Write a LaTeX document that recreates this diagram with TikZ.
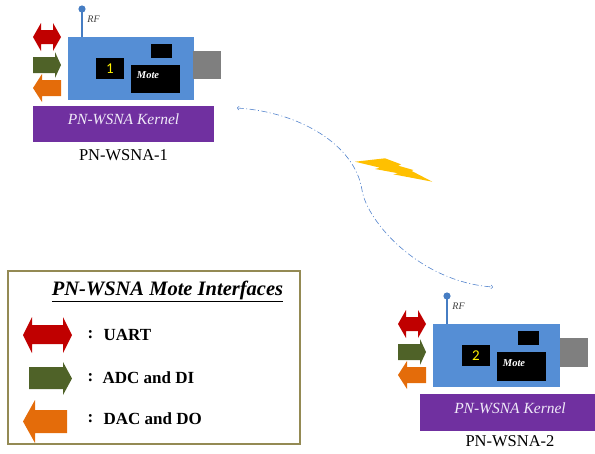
\documentclass[tikz,border=0pt]{standalone}
\usepackage{fontspec}
\setmainfont{Liberation Serif}
\newfontfamily\digitfont{Carlito}
\usepackage{tikz}
\usetikzlibrary{positioning,calc}
\usepackage{xcolor}
\definecolor{moteblue}{RGB}{85,142,213}
\definecolor{antennablue}{RGB}{70,125,195}
\definecolor{usbgray}{RGB}{127,127,127}
\definecolor{kernelpurple}{RGB}{112,48,160}
\definecolor{kerneltext}{RGB}{240,234,248}
\definecolor{uartred}{RGB}{192,0,0}
\definecolor{adcgreen}{RGB}{79,98,40}
\definecolor{dacorange}{RGB}{228,108,10}
\definecolor{legendframe}{RGB}{148,138,84}
\definecolor{boltyellow}{RGB}{255,192,0}
\definecolor{linkblue}{RGB}{84,132,205}

\begin{document}
\begin{tikzpicture}[x=1pt, y=-1pt,
    board/.style={fill=moteblue},
    chip/.style={fill=black},
    usb/.style={fill=usbgray},
    kernel/.style={fill=kernelpurple},
    kerneltxt/.style={text=kerneltext, font=\fontsize{15.5}{18}\selectfont\itshape},
    motelabel/.style={font=\fontsize{16.5}{19}\selectfont},
    antenna/.style={draw=antennablue, line width=2.5pt},
    uart/.style={fill=uartred},
    adc/.style={fill=adcgreen},
    dac/.style={fill=dacorange},
    legendtxt/.style={font=\fontsize{17}{20}\selectfont\bfseries, anchor=west}]
  \useasboundingbox (0,0) rectangle (595,453);

  % Mote 1
  \begin{scope}
    \draw[antenna] (82,37) -- (82,11);
    \fill[antennablue] (82,9) circle (3.6);
    \node[font=\fontsize{10}{12}\selectfont\itshape, text=black!75] (rf1) at (93.5,19.5) {RF};
    \fill[board] (68,37) rectangle (194,100);
    \fill[usb] (193,51) rectangle (221,79);
    \fill[chip] (151,44) rectangle (172,58);
    \fill[chip] (96,58) rectangle (124,79);
    \node[font=\digitfont\fontsize{15}{18}\selectfont, text=yellow] (num1) at (110,68.5) {1};
    \fill[chip] (131,65) rectangle (180,93);
    \node[font=\fontsize{10.5}{12}\selectfont\bfseries\itshape, text=white] (chip1) at (148,75.5) {Mote};
    % interface arrows
    \fill[uart] (33,37) -- (41,23) -- (41,30) -- (53,30) -- (53,23) -- (61,37)
      -- (53,51) -- (53,44) -- (41,44) -- (41,51) -- cycle;
    \fill[adc] (33,57) -- (55,57) -- (55,52) -- (61,65) -- (55,78) -- (55,73) -- (33,73) -- cycle;
    \fill[dac] (33,88) -- (42,74) -- (42,80) -- (61,80) -- (61,96) -- (42,96) -- (42,102) -- cycle;
  \end{scope}
  \fill[kernel] (33,106) rectangle (214,142);
  \node[kerneltxt] (kernel1) at (123.5,119) {PN-WSNA Kernel};
  \node[motelabel] (name1) at (123.5,155.5) {PN-WSNA-1};

  % Mote 2
  \begin{scope}[shift={(365,287)}]
    \draw[antenna] (82,37) -- (82,11);
    \fill[antennablue] (82,9) circle (3.6);
    \node[font=\fontsize{10}{12}\selectfont\itshape, text=black!75] (rf2) at (93.5,19.5) {RF};
    \fill[board] (68,37) rectangle (195,100);
    \fill[usb] (195,51) rectangle (223,80);
    \fill[chip] (153,44) rectangle (174,58);
    \fill[chip] (97,58) rectangle (125,79);
    \node[font=\digitfont\fontsize{15}{18}\selectfont, text=yellow] (num2) at (111,68.5) {2};
    \fill[chip] (132,65) rectangle (181,94);
    \node[font=\fontsize{10.5}{12}\selectfont\bfseries\itshape, text=white] (chip2) at (149,76) {Mote};
    % interface arrows
    \fill[uart] (33,37) -- (41,23) -- (41,30) -- (53,30) -- (53,23) -- (61,37)
      -- (53,51) -- (53,44) -- (41,44) -- (41,51) -- cycle;
    \fill[adc] (33,57) -- (55,57) -- (55,52) -- (61,65) -- (55,78) -- (55,73) -- (33,73) -- cycle;
    \fill[dac] (33,88) -- (42,74) -- (42,80) -- (61,80) -- (61,96) -- (42,96) -- (42,102) -- cycle;
  \end{scope}
  \fill[kernel] (420,394) rectangle (595,431);
  \node[kerneltxt] (kernel2) at (510,408) {PN-WSNA Kernel};
  \node[motelabel] (name2) at (510,441.5) {PN-WSNA-2};

  % Radio link between the motes
  \coordinate (linkA) at (237,108);
  \coordinate (linkB) at (493,287);
  \draw[<->, linkblue, line width=0.6pt, dash pattern=on 6pt off 2.5pt on 1pt off 2.5pt]
    (linkA) .. controls (300,112) and (355,145) .. (362,190)
    .. controls (367,222) and (420,282) .. (linkB);
  \fill[boltyellow] (355,161.7) -- (385,158.3) -- (401,164.3) -- (398.3,165.7) -- (413.3,170)
    -- (411.7,171) -- (432.3,181.7) -- (393.3,174.3) -- (398.3,173.3) -- (375,169) -- (380,167.7) -- cycle;

  % Legend
  \draw[legendframe, line width=2pt] (8,271) rectangle (300,444);
  \node[font=\fontsize{20.5}{24}\selectfont\bfseries\itshape] (legtitle) at (167.5,291) {\underline{PN-WSNA Mote Interfaces}};
  \fill[uart] (23,335) -- (32,317) -- (32,325) -- (63,325) -- (63,317) -- (72,335)
    -- (63,353) -- (63,344) -- (32,344) -- (32,353) -- cycle;
  \fill[adc] (29,367) -- (63,367) -- (63,362) -- (72,378.5) -- (63,395) -- (63,389) -- (29,389) -- cycle;
  \fill[dac] (23,421.5) -- (35,400) -- (35,410) -- (67,410) -- (67,433) -- (35,433) -- (35,443) -- cycle;
  \node[legendtxt] (colon1) at (84,335) {:};
  \node[legendtxt] (uarttxt) at (100,335) {UART};
  \node[legendtxt] (colon2) at (84,378) {:};
  \node[legendtxt] (adctxt) at (99,378) {ADC and DI};
  \node[legendtxt] (colon3) at (84,419) {:};
  \node[legendtxt] (dactxt) at (100,419) {DAC and DO};
\end{tikzpicture}
\end{document}
